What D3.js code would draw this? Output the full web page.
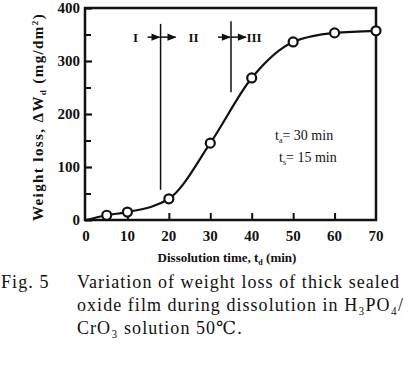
<!DOCTYPE html>
<html>
<head>
<meta charset="utf-8">
<script src="https://cdn.jsdelivr.net/npm/d3@7"></script>
<style>
  html, body { margin: 0; padding: 0; background: #fff; }
  svg { display: block; }
  text { font-family: "Liberation Serif", "DejaVu Serif", serif; fill: #111; }
</style>
</head>
<body>
<svg id="chart" width="414" height="369"></svg>
<script>
// Data
const times = [5, 10, 20, 30, 40, 50, 60, 70];
const weightLoss = [9, 15, 40, 145, 268, 336, 353, 357];
const curveTimes = [0, 5, 10, 20, 30, 40, 50, 60, 70];
const curveLoss = [0, 9, 15, 40, 145, 268, 336, 353, 357];
const xTicks = [0, 10, 20, 30, 40, 50, 60, 70];
const yTicks = [0, 100, 200, 300, 400];
const yMinorTicks = [50, 150, 250, 350];
const stageBounds = [18, 35];
const stageLabels = ["I", "II", "III"];
const captionLines = [
  "Variation of weight loss of thick sealed",
  "oxide film during dissolution in H\u2083PO\u2084/",
  "CrO\u2083 solution 50\u2103."
];

const margin = { top: 8, right: 38, bottom: 149, left: 85 };
const W = 414, H = 369;

const svg = d3.select("#chart");

const x = d3.scaleLinear().domain([0, 70]).range([margin.left + 1, W - margin.right]);
const y = d3.scaleLinear().domain([0, 400]).range([H - margin.bottom, margin.top]);

// frame
svg.append("rect")
  .attr("x", margin.left).attr("y", margin.top)
  .attr("width", W - margin.right - margin.left)
  .attr("height", H - margin.bottom - margin.top)
  .attr("fill", "none").attr("stroke", "#111").attr("stroke-width", 2.5);

// left axis ticks (inward)
const yAxis = svg.append("g").attr("transform", `translate(${margin.left},0)`);
yAxis.call(d3.axisRight(y).tickValues(yTicks).tickSize(7).tickFormat(""));
yAxis.selectAll("path").remove();
yAxis.selectAll("line").attr("stroke", "#111").attr("stroke-width", 2.2);
yAxis.append("g").call(d3.axisRight(y).tickValues(yMinorTicks).tickSize(6).tickFormat(""))
  .call(g => g.select("path").remove())
  .selectAll("line").attr("stroke", "#111").attr("stroke-width", 2);
yAxis.selectAll(".ylab").data(yTicks).enter().append("text")
  .attr("class", "ylab")
  .attr("x", -5).attr("y", d => y(d)).attr("dy", "0.35em")
  .attr("text-anchor", "end")
  .style("font-size", "15px").style("font-weight", "bold")
  .text(d => d);

// bottom axis ticks (inward)
const xAxis = svg.append("g").attr("transform", `translate(0,${H - margin.bottom})`);
xAxis.call(d3.axisTop(x).tickValues(xTicks.slice(1, -1)).tickSize(7).tickFormat(""));
xAxis.selectAll("path").remove();
xAxis.selectAll("line").attr("stroke", "#111").attr("stroke-width", 2);
xAxis.selectAll(".xlab").data(xTicks).enter().append("text")
  .attr("class", "xlab")
  .attr("x", d => x(d)).attr("y", 21)
  .attr("text-anchor", "middle")
  .style("font-size", "15px").style("font-weight", "bold")
  .text(d => d);

// axis titles
svg.append("text")
  .attr("transform", `translate(43,${(margin.top + H - margin.bottom) / 2 + 3}) rotate(-90)`)
  .attr("text-anchor", "middle")
  .style("font-size", "15px").style("font-weight", "bold").style("letter-spacing", "1.4px")
  .html('Weight loss, \u0394W<tspan dy="3" font-size="9">d</tspan><tspan dy="-3"> (mg/dm</tspan><tspan dy="-5" font-size="9">2</tspan><tspan dy="5">)</tspan>');

svg.append("text")
  .attr("x", 227).attr("y", 262)
  .attr("text-anchor", "middle")
  .style("font-size", "13px").style("font-weight", "bold")
  .html('Dissolution time, t<tspan dy="3" font-size="8">d</tspan><tspan dy="-3"> (min)</tspan>');

// stage boundaries
svg.selectAll(".bound").data(stageBounds).enter().append("line")
  .attr("x1", d => x(d)).attr("x2", d => x(d))
  .attr("y1", (d, i) => i === 0 ? y(370) : y(375))
  .attr("y2", (d, i) => i === 0 ? y(57) : y(241))
  .attr("stroke", "#111").attr("stroke-width", 1.5);

// arrows
svg.append("defs").append("marker")
  .attr("id", "arr").attr("viewBox", "0 0 10 10")
  .attr("refX", 9).attr("refY", 5)
  .attr("markerWidth", 7).attr("markerHeight", 6).attr("orient", "auto")
  .append("path").attr("d", "M0,1L10,5L0,9z").attr("fill", "#111");

stageBounds.forEach(b => {
  const ya = y(345);
  svg.append("line")
    .attr("x1", x(b) - 13).attr("x2", x(b) - 1)
    .attr("y1", ya).attr("y2", ya)
    .attr("stroke", "#111").attr("stroke-width", 1.5)
    .attr("marker-end", "url(#arr)");
  svg.append("line")
    .attr("x1", x(b)).attr("x2", x(b) + 15)
    .attr("y1", ya).attr("y2", ya)
    .attr("stroke", "#111").attr("stroke-width", 1.5)
    .attr("marker-end", "url(#arr)");
});

const stagePos = [x(stageBounds[0]) - 25, x(stageBounds[0]) + 33, x(stageBounds[1]) + 23];
svg.selectAll(".stage").data(stageLabels).enter().append("text")
  .attr("x", (d, i) => stagePos[i]).attr("y", y(345)).attr("dy", "0.35em")
  .attr("text-anchor", "middle")
  .style("font-size", "13px").style("font-weight", "bold")
  .text(d => d);

// fitted curve
const line = d3.line()
  .x((d, i) => x(curveTimes[i]))
  .y(d => y(d))
  .curve(d3.curveMonotoneX);
svg.append("path")
  .datum(curveLoss)
  .attr("d", line)
  .attr("fill", "none").attr("stroke", "#111").attr("stroke-width", 2.2);

// data points
svg.selectAll(".pt").data(weightLoss).enter().append("circle")
  .attr("cx", (d, i) => x(times[i])).attr("cy", d => y(d))
  .attr("r", 4.5)
  .attr("fill", "#fff").attr("stroke", "#111").attr("stroke-width", 2.2);

// conditions
svg.append("text")
  .attr("x", 275).attr("y", 140)
  .style("font-size", "14px")
  .html('t<tspan dy="3" font-size="8">a</tspan><tspan dy="-3">= 30 min</tspan>');
svg.append("text")
  .attr("x", 279).attr("y", 162)
  .style("font-size", "14px")
  .html('t<tspan dy="3" font-size="8">s</tspan><tspan dy="-3">= 15 min</tspan>');

// caption
svg.append("text")
  .attr("x", 1).attr("y", 288)
  .style("font-size", "18px").style("letter-spacing", "1.1px")
  .text("Fig. 5");
svg.selectAll(".cap").data(captionLines).enter().append("text")
  .attr("x", 77).attr("y", (d, i) => 288 + i * 23)
  .style("font-size", "18px").style("letter-spacing", "1.05px")
  .text(d => d);
</script>
</body>
</html>
